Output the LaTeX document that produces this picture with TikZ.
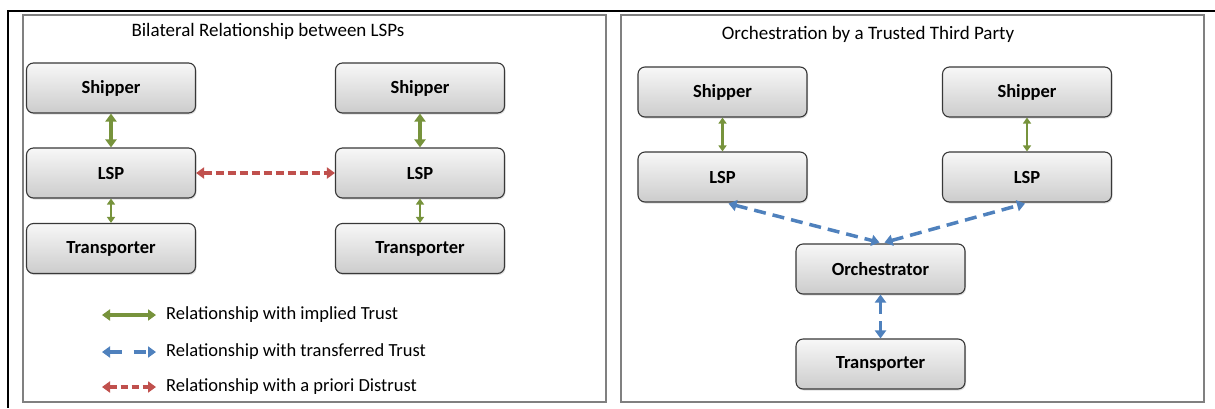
\documentclass[tikz,border=0pt]{standalone}
\usepackage{fontspec}
\setmainfont{Carlito}
\usetikzlibrary{arrows.meta,shadows,calc}
\definecolor{tgreen}{HTML}{77933C}
\definecolor{tred}{HTML}{C0504D}
\definecolor{tblue}{HTML}{4F81BD}
\tikzset{
  box/.style={rounded corners=7pt, draw=black!78, line width=1.1pt,
    top color=gray!6, bottom color=gray!40,
    minimum width=169pt, minimum height=50pt, inner sep=0pt,
    font=\bfseries\fontsize{18.5}{20}\selectfont,
    drop shadow={opacity=0.25, shadow xshift=1pt, shadow yshift=-1.5pt}},
  title/.style={font=\fontsize{19}{22}\selectfont, inner sep=0pt},
  legtext/.style={font=\fontsize{18.5}{22}\selectfont, anchor=west, inner sep=0pt},
  greenthick/.style={draw=tgreen, line width=3.5pt, {Triangle[width=11pt,length=8pt]}-{Triangle[width=11pt,length=8pt]}},
  greenthin/.style={draw=tgreen, line width=2.2pt, {Triangle[width=8pt,length=6pt]}-{Triangle[width=8pt,length=6pt]}},
  redd/.style={draw=tred, line width=3.5pt, dash pattern=on 8pt off 4pt, {Triangle[width=11pt,length=8pt]}-{Triangle[width=11pt,length=8pt]}},
  blued/.style={draw=tblue, line width=3.5pt, dash pattern=on 12pt off 7pt, {Triangle[width=11pt,length=8pt]}-{Triangle[width=11pt,length=8pt]}},
  panel/.style={draw=black!50, line width=1.5pt},
}
\begin{document}
\begin{tikzpicture}[x=1pt,y=-1pt]
\useasboundingbox (0,0) rectangle (1215,408);
% outer black frame lines
\draw[line width=2.5pt] (1215,11) -- (8,11) -- (8,408);
% panels
\draw[panel] (23,15) rectangle (606,402);
\draw[panel] (621,15) rectangle (1204,402);
% titles
\node[title] (t1) at (268,31) {Bilateral Relationship between LSPs};
\node[title] (t2) at (868,34) {Orchestration by a Trusted Third Party};
% left panel nodes
\node[box] (shA) at (111,88) {Shipper};
\node[box] (lA) at (111,173) {LSP};
\node[box] (tA) at (111,248.5) {Transporter};
\node[box] (shB) at (420,88) {Shipper};
\node[box] (lB) at (420,173) {LSP};
\node[box] (tB) at (420,248.5) {Transporter};
% right panel nodes
\node[box] (shC) at (722.5,92) {Shipper};
\node[box] (lC) at (722.5,177) {LSP};
\node[box] (shD) at (1027,92) {Shipper};
\node[box] (lD) at (1027,177) {LSP};
\node[box] (orc) at (880.5,269) {Orchestrator};
\node[box] (tC) at (880.5,364) {Transporter};
% left connectors
\draw[greenthick] (shA.south) -- (lA.north);
\draw[greenthin] (lA.south) -- (tA.north);
\draw[greenthick] (shB.south) -- (lB.north);
\draw[greenthin] (lB.south) -- (tB.north);
\draw[redd] (lA.east) -- (lB.west);
% right connectors
\draw[greenthin] (shC.south) -- (lC.north);
\draw[greenthin] (shD.south) -- (lD.north);
\draw[blued] ($(lC.south)+(6,1)$) -- ($(orc.north)+(-1,-1)$);
\draw[blued] ($(orc.north)+(4,-1)$) -- ($(lD.south)+(-2,1)$);
\draw[blued] (orc.south) -- (tC.north);
% legend
\coordinate (g1) at (102,315); \coordinate (g2) at (156,315);
\coordinate (b1) at (102,352); \coordinate (b2) at (156,352);
\coordinate (r1) at (102,387); \coordinate (r2) at (156,387);
\draw[greenthick] (g1) -- (g2);
\draw[blued, dash pattern=on 12pt off 12pt] (b1) -- (b2);
\draw[redd, dash pattern=on 7pt off 4pt] (r1) -- (r2);
\node[legtext] (lg1) at (166,315) {Relationship with implied Trust};
\node[legtext] (lg2) at (166,352) {Relationship with transferred Trust};
\node[legtext] (lg3) at (166,387) {Relationship with a priori Distrust};
\end{tikzpicture}
\end{document}
